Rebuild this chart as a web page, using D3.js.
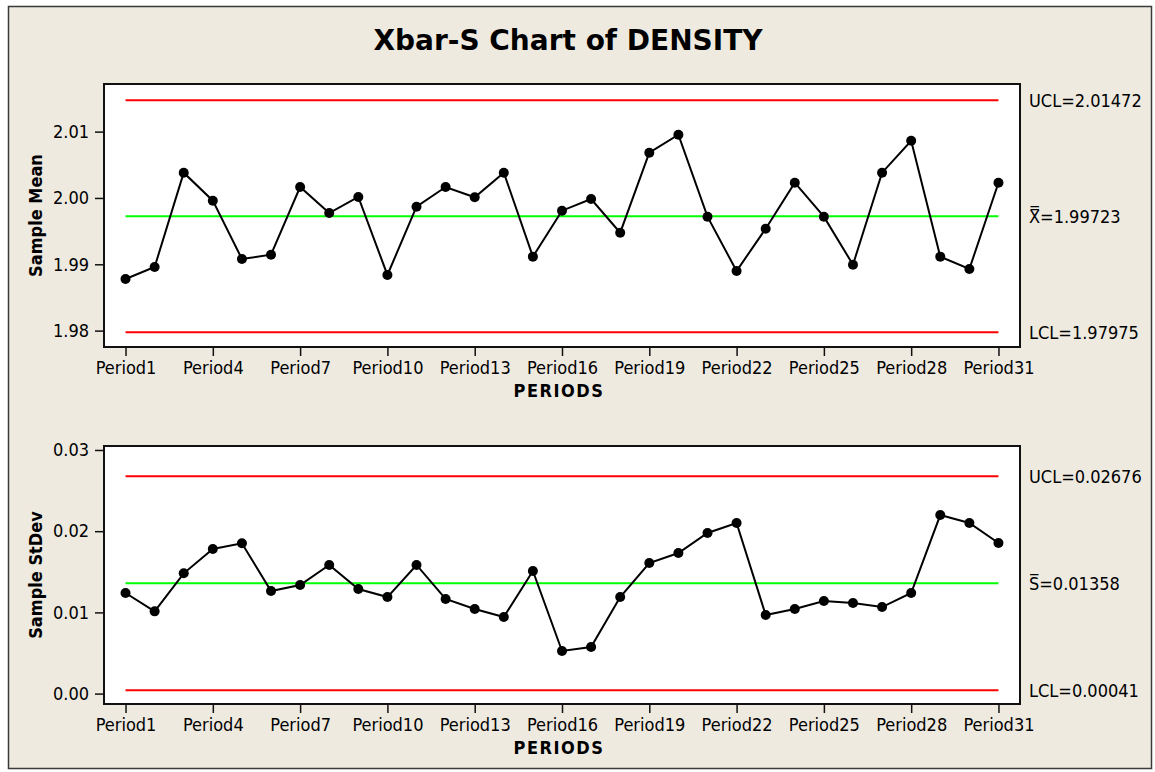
<!DOCTYPE html>
<html>
<head>
<meta charset="utf-8">
<script src="https://cdn.jsdelivr.net/npm/d3@7"></script>
<style>
    body { margin: 0; background: #fff; }
    .tick text, .limit-label { font-family: "DejaVu Sans Condensed", "DejaVu Sans", sans-serif; font-stretch: condensed; font-size: 18px; fill: #000; }
    .axis-title { font-family: "DejaVu Sans Condensed", "DejaVu Sans", sans-serif; font-stretch: condensed; font-weight: bold; font-size: 18px; }
    .chart-title { font-family: "DejaVu Sans", sans-serif; font-weight: bold; font-size: 28px; }
</style>
</head>
<body>
<div id="chart"></div>
<script>
(function () {

    var periods = ["Period1", "Period2", "Period3", "Period4", "Period5", "Period6", "Period7", "Period8",
        "Period9", "Period10", "Period11", "Period12", "Period13", "Period14", "Period15", "Period16",
        "Period17", "Period18", "Period19", "Period20", "Period21", "Period22", "Period23", "Period24",
        "Period25", "Period26", "Period27", "Period28", "Period29", "Period30", "Period31"];
    var tickPeriods = ["Period1", "Period4", "Period7", "Period10", "Period13", "Period16",
        "Period19", "Period22", "Period25", "Period28", "Period31"];

    var sampleMeans = [1.98778, 1.98959, 2.00381, 1.99959, 1.99080, 1.99145, 2.00165, 1.99773,
        2.00015, 1.98839, 1.99868, 2.00165, 2.00010, 2.00381, 1.99115, 1.99808,
        1.99984, 1.99476, 2.00682, 2.00954, 1.99718, 1.98899, 1.99537, 2.00230,
        1.99718, 1.98994, 2.00381, 2.00863, 1.99115, 1.98929, 2.00230];
    var sampleStDevs = [0.01239, 0.01013, 0.01481, 0.01781, 0.01851, 0.01263, 0.01337, 0.01584,
        0.01288, 0.01189, 0.01584, 0.01165, 0.01042, 0.00943, 0.01510, 0.00525,
        0.00574, 0.01189, 0.01608, 0.01731, 0.01978, 0.02101, 0.00968, 0.01042,
        0.01140, 0.01116, 0.01066, 0.01239, 0.02199, 0.02101, 0.01854];

    // UCL, center, LCL
    var meanLimits = [2.01472, 1.99723, 1.97975];
    var stdevLimits = [0.02676, 0.01358, 0.00041];
    var meanTicks = [1.98, 1.99, 2.00, 2.01];
    var stdevTicks = [0.00, 0.01, 0.02, 0.03];

    var width = 1155;
    var height = 772;
    var plotLeft = 104;
    var plotRight = 1020;

    var svg = d3.select("#chart").append("svg").attr("width", width).attr("height", height);

    // beige frame
    svg.append("rect")
        .attr("x", 8.5).attr("y", 6.5)
        .attr("width", 1143).attr("height", 762)
        .attr("fill", "#eeeae0")
        .attr("stroke", "#3a3a3a")
        .attr("stroke-width", 1.5);

    svg.append("text")
        .attr("class", "chart-title")
        .attr("x", 568).attr("y", 50)
        .attr("text-anchor", "middle")
        .text("Xbar-S Chart of DENSITY");

    var x = d3.scalePoint()
        .domain(periods)
        .range([plotLeft, plotRight])
        .padding(0.74);

    drawPanel({
        top: 84, bottom: 347,
        domain: [1.97753, 2.01718],
        values: sampleMeans,
        ticks: meanTicks,
        limits: meanLimits,
        centerName: "X\u033F",
        yTitle: "Sample Mean"
    });

    drawPanel({
        top: 446, bottom: 704,
        domain: [-0.00128, 0.03049],
        values: sampleStDevs,
        ticks: stdevTicks,
        limits: stdevLimits,
        centerName: "S\u0305",
        yTitle: "Sample StDev"
    });

    /* functions */

    function drawPanel(cfg) {
        var y = d3.scaleLinear().domain(cfg.domain).range([cfg.bottom, cfg.top]);
        var g = svg.append("g");

        g.append("rect")
            .attr("x", plotLeft).attr("y", cfg.top)
            .attr("width", plotRight - plotLeft).attr("height", cfg.bottom - cfg.top)
            .attr("fill", "#fff")
            .attr("stroke", "#111")
            .attr("stroke-width", 2);

        // y axis
        var yAxis = g.append("g")
            .attr("transform", "translate(" + (plotLeft - 1) + ",0)")
            .call(d3.axisLeft(y).tickValues(cfg.ticks).tickFormat(d3.format(".2f")).tickSize(8).tickPadding(6));
        yAxis.select(".domain").remove();
        yAxis.selectAll("line").attr("stroke", "#111").attr("stroke-width", 1.5);

        // x axis
        var xAxis = g.append("g")
            .attr("transform", "translate(0," + (cfg.bottom + 1) + ")")
            .call(d3.axisBottom(x).tickValues(tickPeriods).tickSize(8).tickPadding(5));
        xAxis.select(".domain").remove();
        xAxis.selectAll("line").attr("stroke", "#111").attr("stroke-width", 1.5);

        g.append("text")
            .attr("class", "axis-title")
            .attr("x", (plotLeft + plotRight) / 2 - 3)
            .attr("y", cfg.bottom + 50)
            .attr("text-anchor", "middle")
            .attr("letter-spacing", 1.5)
            .text("PERIODS");

        g.append("text")
            .attr("class", "axis-title")
            .attr("transform", "translate(42," + ((cfg.top + cfg.bottom) / 2) + ") rotate(-90)")
            .attr("text-anchor", "middle")
            .text(cfg.yTitle);

        // control limits
        var limitColors = ["#ff0000", "#00ff00", "#ff0000"];
        var names = ["UCL", cfg.centerName, "LCL"];
        var x0 = x(periods[0]);
        var x1 = x(periods[periods.length - 1]);

        g.selectAll(".limit")
            .data(cfg.limits)
            .enter()
            .append("line")
            .attr("class", "limit")
            .attr("x1", x0).attr("x2", x1)
            .attr("y1", d => y(d)).attr("y2", d => y(d))
            .attr("stroke", (d, i) => limitColors[i])
            .attr("stroke-width", 2);

        g.selectAll(".limit-label")
            .data(cfg.limits)
            .enter()
            .append("text")
            .attr("class", "limit-label")
            .attr("x", 1029)
            .attr("y", d => y(d))
            .attr("dy", "0.36em")
            .text((d, i) => names[i] + "=" + d3.format(".5f")(d));

        // series
        var line = d3.line()
            .x((d, i) => x(periods[i]))
            .y(d => y(d));

        g.append("path")
            .datum(cfg.values)
            .attr("fill", "none")
            .attr("stroke", "#000")
            .attr("stroke-width", 2)
            .attr("d", line);

        g.selectAll(".pt")
            .data(cfg.values)
            .enter()
            .append("circle")
            .attr("class", "pt")
            .attr("cx", (d, i) => x(periods[i]))
            .attr("cy", d => y(d))
            .attr("r", 5)
            .attr("fill", "#000");
    }
})();
</script>
</body>
</html>
